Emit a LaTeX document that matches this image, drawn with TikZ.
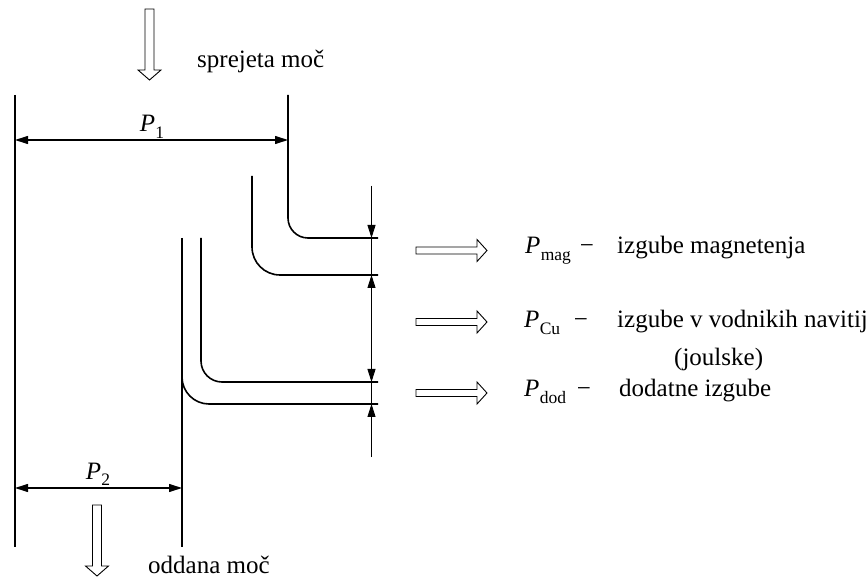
\documentclass[tikz,border=0pt]{standalone}
\usepackage{fontspec}
\setmainfont{Liberation Serif}
\usetikzlibrary{arrows.meta}
\newcommand{\Pix}[1]{\textit{P}\kern0.3pt\raisebox{-0.27em}{\fontsize{17.5}{18}\selectfont #1}}
\tikzset{
  conductor/.style={line width=1.6pt},
  dimline/.style={line width=0.9pt},
  tipT/.style={-{Triangle[length=13pt,width=8pt]}},
  dimarrow/.style={line width=1.1pt,{Triangle[length=13pt,width=8pt]}-{Triangle[length=13pt,width=8pt]}},
  hollow/.style={line width=0.9pt, fill=white, line join=miter},
  lbl/.style={inner sep=0pt, anchor=base west},
  clbl/.style={inner sep=0pt, anchor=base},
  harrow/.pic={\draw[hollow] (0,-3.5) -- (61,-3.5) -- (61,-11) -- (71,0) -- (61,11) -- (61,3.5) -- (0,3.5) -- cycle;},
  varrow/.pic={\draw[hollow] (-4.5,0) -- (-4.5,61) -- (-11.5,61) -- (0,71) -- (11.5,61) -- (4.5,61) -- (4.5,0) -- cycle;}
}
\begin{document}
\begin{tikzpicture}[x=1pt,y=-1pt,font=\fontsize{25}{30}\selectfont]
\useasboundingbox (0,0) rectangle (868,577);

% coordinates
\coordinate (aT) at (15,95);   \coordinate (aB) at (15,547);
\coordinate (bT) at (288,95);  \coordinate (bK) at (288,238); \coordinate (bE) at (378,238);
\coordinate (cT) at (252,176); \coordinate (cK) at (252,275); \coordinate (cE) at (378,275);
\coordinate (dT) at (201,238); \coordinate (dK) at (201,382); \coordinate (dE) at (378,382);
\coordinate (eT) at (182,238); \coordinate (eK) at (182,404); \coordinate (eE) at (378,404);
\coordinate (eB) at (182,547); \coordinate (eM) at (182,340);
\coordinate (vT) at (371.5,186); \coordinate (vB) at (371.5,457);
\coordinate (v1) at (371.5,238); \coordinate (v2) at (371.5,275);
\coordinate (v3) at (371.5,382); \coordinate (v4) at (371.5,404);
\coordinate (p1L) at (15,140);  \coordinate (p1R) at (288,140);
\coordinate (p2L) at (15,488);  \coordinate (p2R) at (182,488);

% conductors
\draw[conductor] (aT) -- (aB);
\draw[conductor, rounded corners=20pt] (bT) -- (bK) -- (bE);
\draw[conductor, rounded corners=28pt] (cT) -- (cK) -- (cE);
\draw[conductor, rounded corners=21pt] (dT) -- (dK) -- (dE);
\draw[conductor] (eT) -- (eB);
\draw[conductor, rounded corners=27pt] (eM) -- (eK) -- (eE);

% dimension lines
\draw[dimline] (vT) -- (vB);
\draw[dimline, tipT] (vT) -- (v1);
\draw[dimline, {Triangle[length=13pt,width=8pt]}-{Triangle[length=13pt,width=8pt]}] (v2) -- (v3);
\draw[dimline, tipT] (vB) -- (v4);
\draw[dimarrow] (p1L) -- (p1R);
\draw[dimarrow] (p2L) -- (p2R);

% hollow arrows
\pic at (149.5,9) {varrow};
\pic at (97,505) {varrow};
\pic at (416,250.5) {harrow};
\pic at (416,322) {harrow};
\pic at (416,393) {harrow};

% labels
\node[lbl] (tin) at (197,68) {sprejeta moč};
\node[clbl] (p1) at (152,132) {\Pix{1}};
\node[clbl] (p2) at (98,479) {\Pix{2}};
\node[lbl] (tout) at (148,573) {oddana moč};

\node[lbl] (pmag) at (525,254) {\Pix{mag}};
\node[clbl] (mmag) at (587,254) {−};
\node[lbl] (dmag) at (617,254) {izgube magnetenja};

\node[lbl] (pcu) at (524,328) {\Pix{Cu}};
\node[clbl] (mcu) at (581,328) {−};
\node[lbl] (dcu) at (617,328) {izgube v vodnikih navitij};
\node[lbl] (dcu2) at (674,366) {(joulske)};

\node[lbl] (pdod) at (524,397) {\Pix{dod}};
\node[clbl] (mdod) at (584,397) {−};
\node[lbl] (ddod) at (619,397) {dodatne izgube};
\end{tikzpicture}
\end{document}
